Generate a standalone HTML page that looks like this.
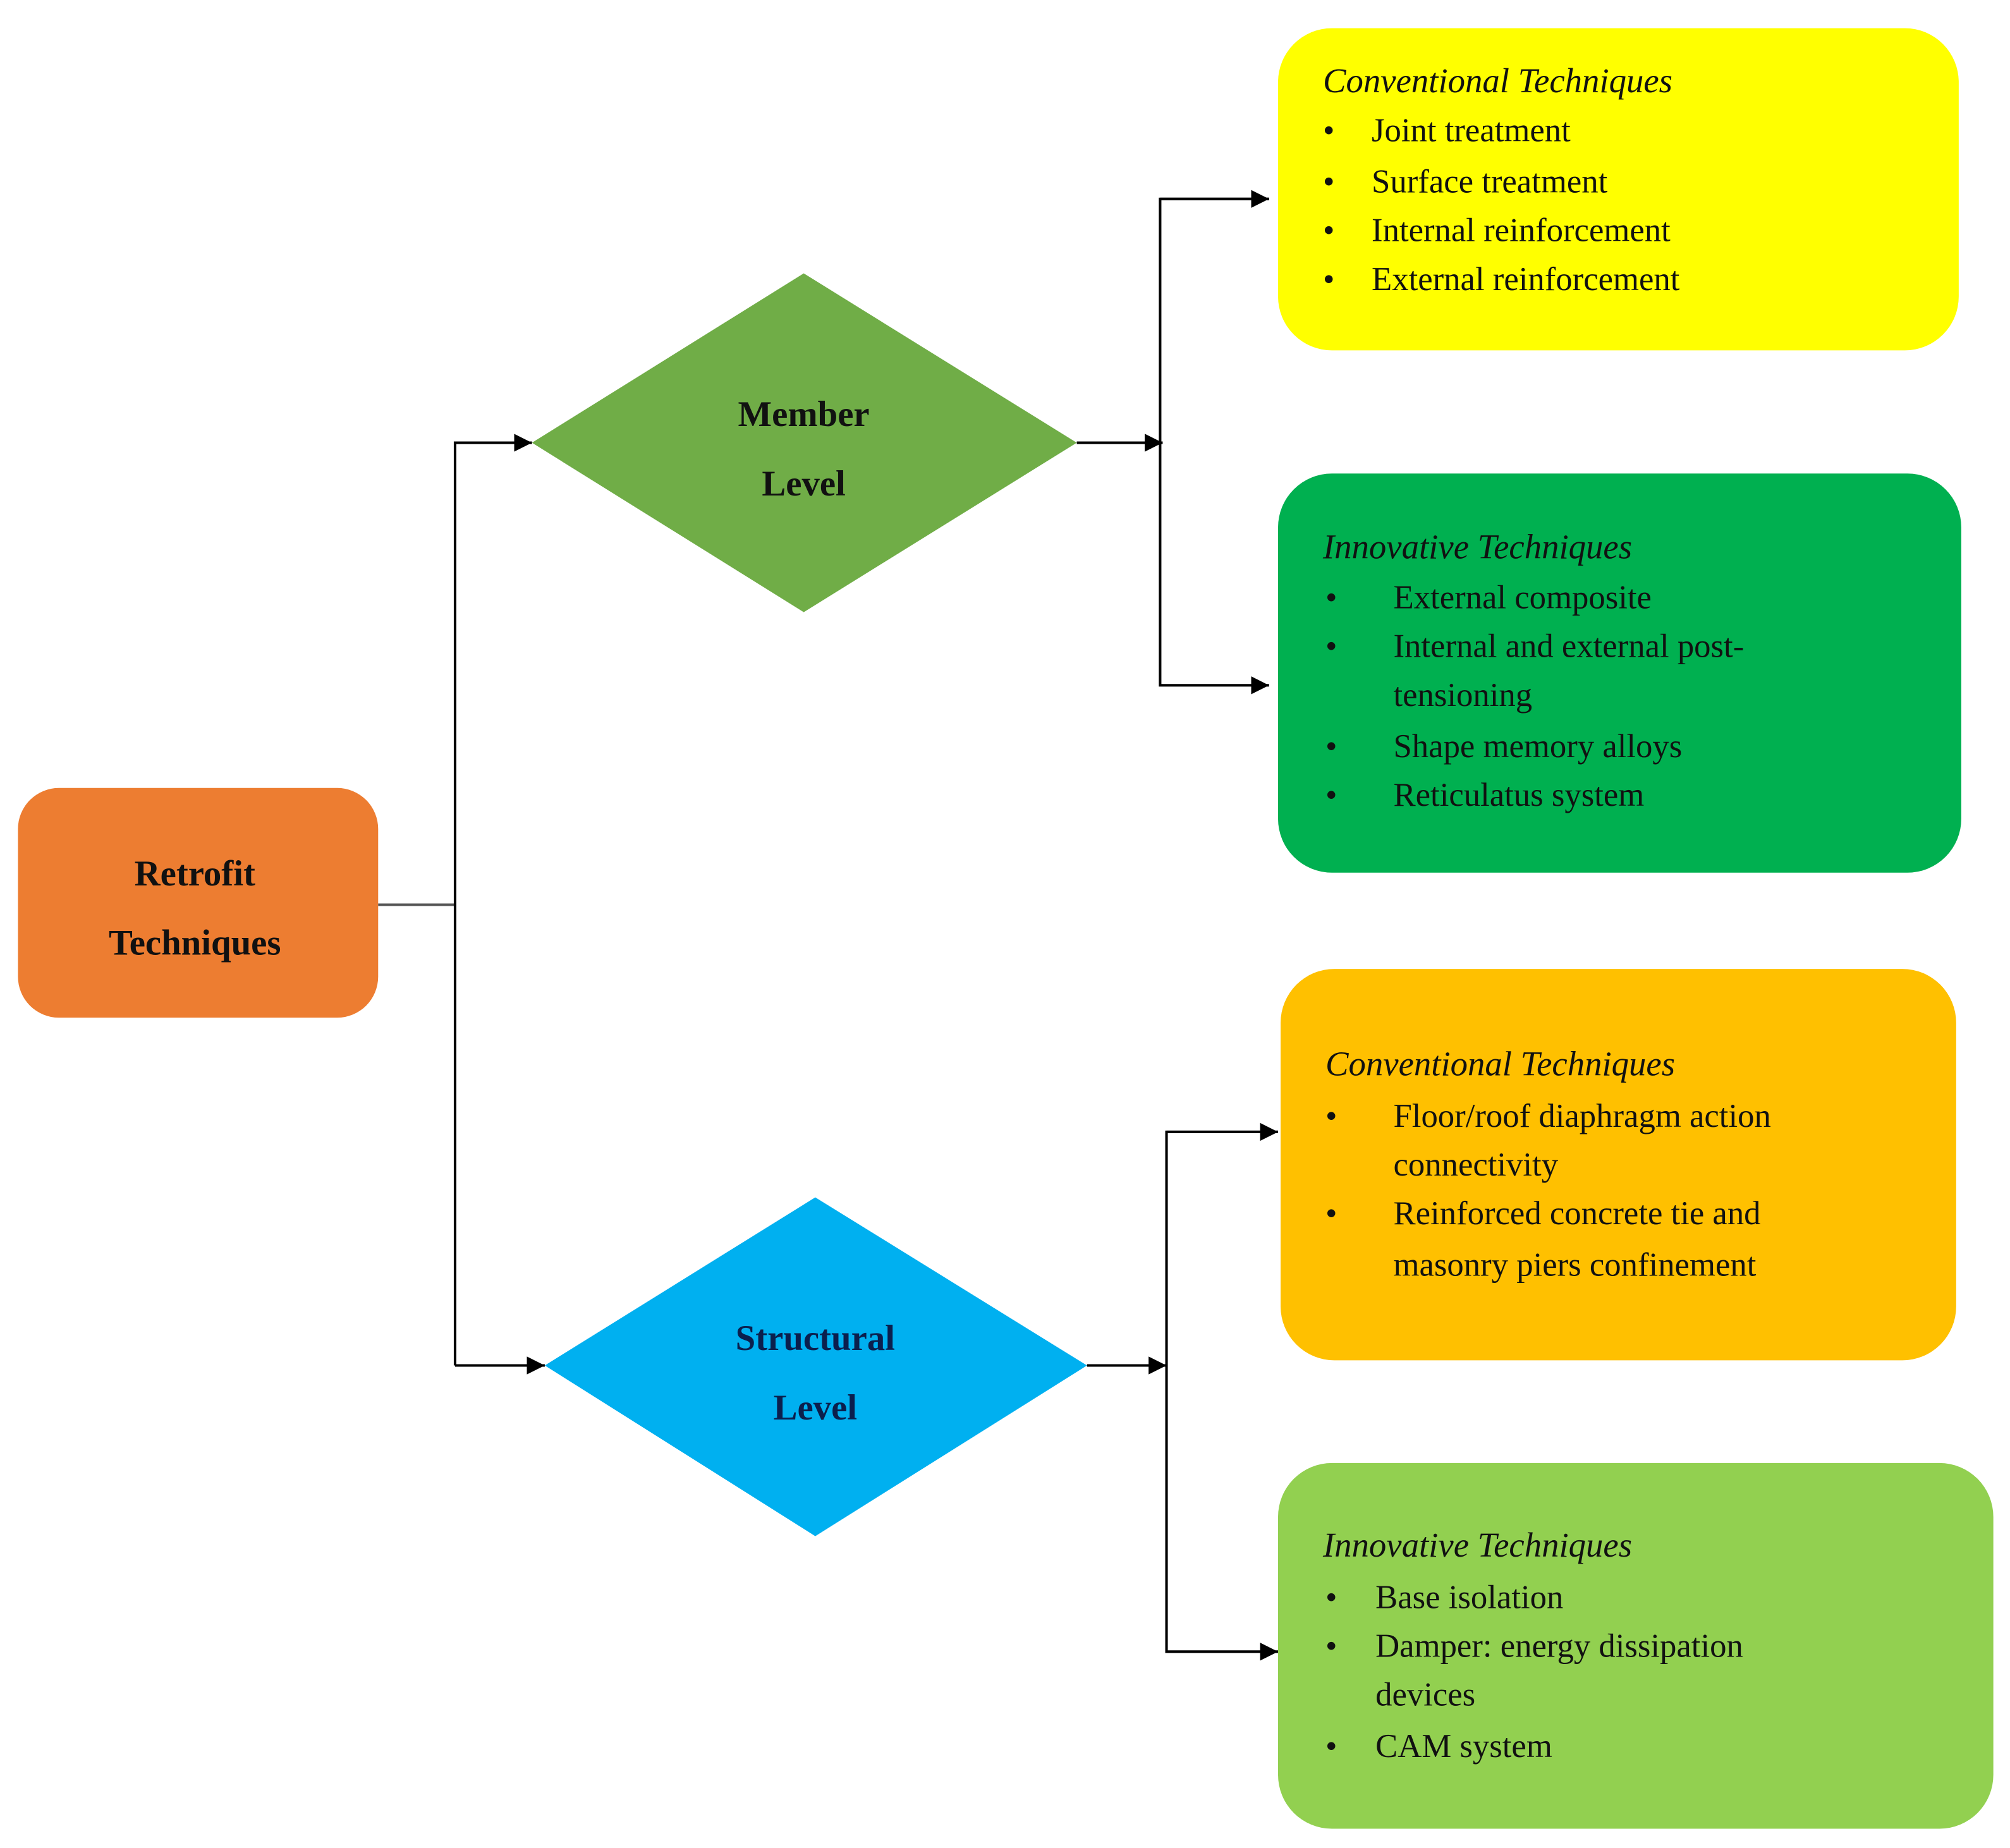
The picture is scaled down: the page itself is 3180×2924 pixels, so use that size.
<!DOCTYPE html>
<html><head><meta charset="utf-8"><style>
html,body{margin:0;padding:0;background:#fff;}
svg{display:block;}
text{font-family:"Liberation Serif",serif;fill:#111;}
.t{font-size:26px;}
.ti{font-size:27px;font-style:italic;}
.b{font-size:28px;font-weight:bold;}
</style></head><body>
<svg width="3180" height="2924" viewBox="0 0 1568 1440" preserveAspectRatio="none" xmlns="http://www.w3.org/2000/svg">
<defs><marker id="a" viewBox="0 0 10 10" refX="10" refY="5" markerWidth="14" markerHeight="14" markerUnits="userSpaceOnUse" orient="auto"><path d="M0,0 L10,5 L0,10 z" fill="#000"/></marker></defs>
<rect x="14" y="614" width="281" height="179" rx="32" fill="#ED7D31"/>
<polygon points="415,345 627,213 840,345 627,477" fill="#70AD47"/>
<polygon points="425,1064 636,933 848,1064 636,1197" fill="#00B0F0"/>
<rect x="997" y="22" width="531" height="251" rx="42" fill="#FFFF00"/>
<rect x="997" y="369" width="533" height="311" rx="42" fill="#00B050"/>
<rect x="999" y="755" width="527" height="305" rx="42" fill="#FFC000"/>
<rect x="997" y="1140" width="558" height="285" rx="42" fill="#92D050"/>
<g stroke="#000" stroke-width="2" fill="none">
<path d="M295,705 H355" stroke="#555"/>
<path d="M355,1064 V345 H415" marker-end="url(#a)"/>
<path d="M355,1064 H425" marker-end="url(#a)"/>
<path d="M840,345 H907" marker-end="url(#a)"/>
<path d="M990,155 H905 V534 H990" marker-end="url(#a)"/>
<path d="M905,155 H990" marker-end="url(#a)"/>
<path d="M848,1064 H910" marker-end="url(#a)"/>
<path d="M997,882 H910 V1287 H997" marker-end="url(#a)"/>
<path d="M910,882 H997" marker-end="url(#a)"/>
</g>
<text class="b" x="152" y="690" text-anchor="middle">Retrofit</text>
<text class="b" x="152" y="744" text-anchor="middle">Techniques</text>
<text class="b" x="627" y="332" text-anchor="middle">Member</text>
<text class="b" x="627" y="386" text-anchor="middle">Level</text>
<text class="b" x="636" y="1052" text-anchor="middle" style="fill:#0b1f4d">Structural</text>
<text class="b" x="636" y="1106" text-anchor="middle" style="fill:#0b1f4d">Level</text>

<text class="ti" x="1032" y="72">Conventional  Techniques</text>
<g class="t"><text x="1032" y="110">•</text><text x="1070" y="110">Joint treatment</text>
<text x="1032" y="150">•</text><text x="1070" y="150">Surface treatment</text>
<text x="1032" y="188">•</text><text x="1070" y="188">Internal reinforcement</text>
<text x="1032" y="226">•</text><text x="1070" y="226">External reinforcement</text></g>

<text class="ti" x="1032" y="435">Innovative  Techniques</text>
<g class="t"><text x="1034" y="474">•</text><text x="1087" y="474">External composite</text>
<text x="1034" y="512">•</text><text x="1087" y="512">Internal and external post-</text>
<text x="1087" y="550">tensioning</text>
<text x="1034" y="590">•</text><text x="1087" y="590">Shape memory alloys</text>
<text x="1034" y="628">•</text><text x="1087" y="628">Reticulatus system</text></g>

<text class="ti" x="1034" y="838">Conventional  Techniques</text>
<g class="t"><text x="1034" y="878">•</text><text x="1087" y="878">Floor/roof diaphragm action</text>
<text x="1087" y="916">connectivity</text>
<text x="1034" y="954">•</text><text x="1087" y="954">Reinforced concrete tie and</text>
<text x="1087" y="994">masonry piers confinement</text></g>

<text class="ti" x="1032" y="1213">Innovative  Techniques</text>
<g class="t"><text x="1034" y="1253">•</text><text x="1073" y="1253">Base isolation</text>
<text x="1034" y="1291">•</text><text x="1073" y="1291">Damper: energy dissipation</text>
<text x="1073" y="1329">devices</text>
<text x="1034" y="1369">•</text><text x="1073" y="1369">CAM system</text></g>
</svg>
</body></html>
